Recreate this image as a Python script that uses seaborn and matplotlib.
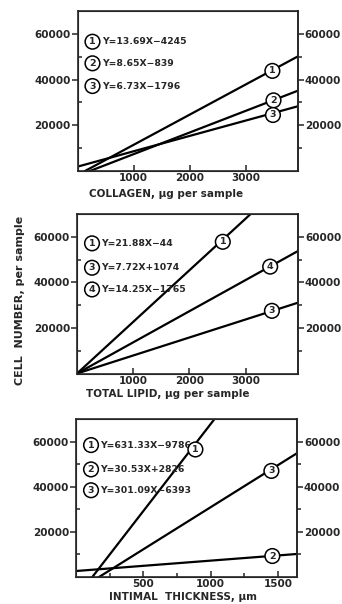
import pandas as pd
import matplotlib.pyplot as plt
import seaborn as sns

sns.set_style('ticks')
plt.rcParams['font.family'] = ['DejaVu Sans']
plt.rcParams['font.weight'] = 'bold'

# --- data: each line is given by its two end points ---
coll_ids = ['1', '2', '3']
coll_x0 = [134, 223, 0]
coll_y0 = [0, 0, 1900]
coll_x1 = [3932, 3932, 3932]
coll_y1 = [50100, 35100, 28300]
coll_lab_x = [3480, 3500, 3490]
coll_lab_y = [43800, 30900, 24500]
coll_eq = ['Y=13.69X\u22124245', 'Y=8.65X\u2212839', 'Y=6.73X\u22121796']

lip_ids = ['1', '4', '3']
lip_x0 = [0, 0, 0]
lip_y0 = [0, 0, 0]
lip_x1 = [3090, 3932, 3932]
lip_y1 = [70000, 53760, 31080]
lip_lab_x = [2594, 3437, 3468]
lip_lab_y = [57800, 46900, 27500]
lip_eq_ids = ['1', '3', '4']
lip_eq = ['Y=21.88X\u221244', 'Y=7.72X+1074', 'Y=14.25X\u22121765']

thk_ids = ['1', '2', '3']
thk_x0 = [121, 0, 171]
thk_y0 = [0, 2650, 0]
thk_x1 = [1028, 1640, 1636]
thk_y1 = [70000, 10200, 54700]
thk_lab_x = [886, 1457, 1450]
thk_lab_y = [56500, 9300, 47000]
thk_eq = ['Y=631.33X\u22129786', 'Y=30.53X+2826', 'Y=301.09X\u22126393']

yticks = [20000, 40000, 60000]
yminor = [10000, 30000, 50000]

W, H = 342, 604
fig = plt.figure(figsize=(W / 100, H / 100), dpi=100)


def make_ax(left, right, top, bottom):
    return fig.add_axes([left / W, 1 - bottom / H, (right - left) / W, (bottom - top) / H])


def lines_df(ids, x0, y0, x1, y1):
    rows = []
    for i, a, b, c, d in zip(ids, x0, y0, x1, y1):
        rows.append({'line': i, 'x': a, 'y': b})
        rows.append({'line': i, 'x': c, 'y': d})
    return pd.DataFrame(rows)


def panel(ax, df, xlim, xticks, xminor, lab_ids, lab_x, lab_y, eq_ids, eqs, eq_y, eq_x):
    sns.lineplot(data=df, x='x', y='y', units='line', estimator=None,
                 color='black', linewidth=1.6, ax=ax, legend=False)
    ax.set_xlim(*xlim)
    ax.set_ylim(0, 70000)
    ax.set_xlabel('')
    ax.set_ylabel('')
    for s in ax.spines.values():
        s.set_visible(True)
        s.set_linewidth(1.2)
    ax.set_xticks(xticks)
    ax.set_xticks(xminor, minor=True)
    ax.set_yticks(yticks)
    ax.set_yticks(yminor, minor=True)
    ax.tick_params(axis='x', which='major', direction='in', length=4, width=1.1,
                   labelsize=7.5, pad=1.5)
    ax.tick_params(axis='x', which='minor', direction='in', length=3, width=1.1)
    ax.tick_params(axis='y', which='major', direction='out', length=4, width=1.1,
                   labelsize=7.5, pad=1)
    ax.tick_params(axis='y', which='minor', direction='in', length=3, width=1.1)
    for t in ax.get_xticklabels() + ax.get_yticklabels():
        t.set_fontweight('bold')
    ax2 = ax.twinx()
    ax2.set_ylim(0, 70000)
    ax2.set_yticks(yticks)
    ax2.set_yticks(yminor, minor=True)
    ax2.tick_params(axis='y', which='major', direction='out', length=4, width=1.1,
                    labelsize=7.5, pad=1)
    ax2.tick_params(axis='y', which='minor', direction='out', length=3, width=1.1)
    for t in ax2.get_yticklabels():
        t.set_fontweight('bold')
    ax2.spines['right'].set_linewidth(1.2)
    circ = dict(boxstyle='circle,pad=0.3', fc='white', ec='black', lw=1.1)
    for i, x, y in zip(lab_ids, lab_x, lab_y):
        ax.text(x, y, i, fontsize=6.8, ha='center', va='center', fontweight='bold',
                bbox=circ, zorder=5)
    for i, e, y in zip(eq_ids, eqs, eq_y):
        ax.text(0.068, y, i, transform=ax.transAxes, fontsize=6.8, ha='center',
                va='center', fontweight='bold', bbox=circ, zorder=4)
        ax.text(eq_x, y, e, transform=ax.transAxes, fontsize=6.7, ha='left',
                va='center', fontweight='bold', zorder=4)


ax1 = make_ax(77.5, 297.7, 11, 171)
panel(ax1, lines_df(coll_ids, coll_x0, coll_y0, coll_x1, coll_y1), (0, 3932),
      [1000, 2000, 3000], [], coll_ids, coll_lab_x, coll_lab_y,
      coll_ids, coll_eq, [0.808, 0.673, 0.531], 0.11)

ax2 = make_ax(77, 298, 214, 373.5)
panel(ax2, lines_df(lip_ids, lip_x0, lip_y0, lip_x1, lip_y1), (0, 3932),
      [1000, 2000, 3000], [], lip_ids, lip_lab_x, lip_lab_y,
      lip_eq_ids, lip_eq, [0.816, 0.663, 0.527], 0.11)

ax3 = make_ax(76, 297, 419, 577)
panel(ax3, lines_df(thk_ids, thk_x0, thk_y0, thk_x1, thk_y1), (0, 1640),
      [500, 1000, 1500], [250, 750, 1250], thk_ids, thk_lab_x, thk_lab_y,
      thk_ids, thk_eq, [0.835, 0.681, 0.549], 0.11)

fig.text(166 / W, 1 - 194 / H, 'COLLAGEN, \u03bcg per sample', ha='center', va='center',
         fontsize=7.5, fontweight='bold')
fig.text(168 / W, 1 - 394 / H, 'TOTAL LIPID, \u03bcg per sample', ha='center', va='center',
         fontsize=7.5, fontweight='bold')
fig.text(183 / W, 1 - 597 / H, 'INTIMAL  THICKNESS, \u03bcm', ha='center', va='center',
         fontsize=7.5, fontweight='bold')
fig.text(20 / W, 1 - 300 / H, 'CELL  NUMBER, per sample', ha='center', va='center',
         rotation=90, fontsize=8, fontweight='bold')

plt.savefig('out.png', dpi=100)
